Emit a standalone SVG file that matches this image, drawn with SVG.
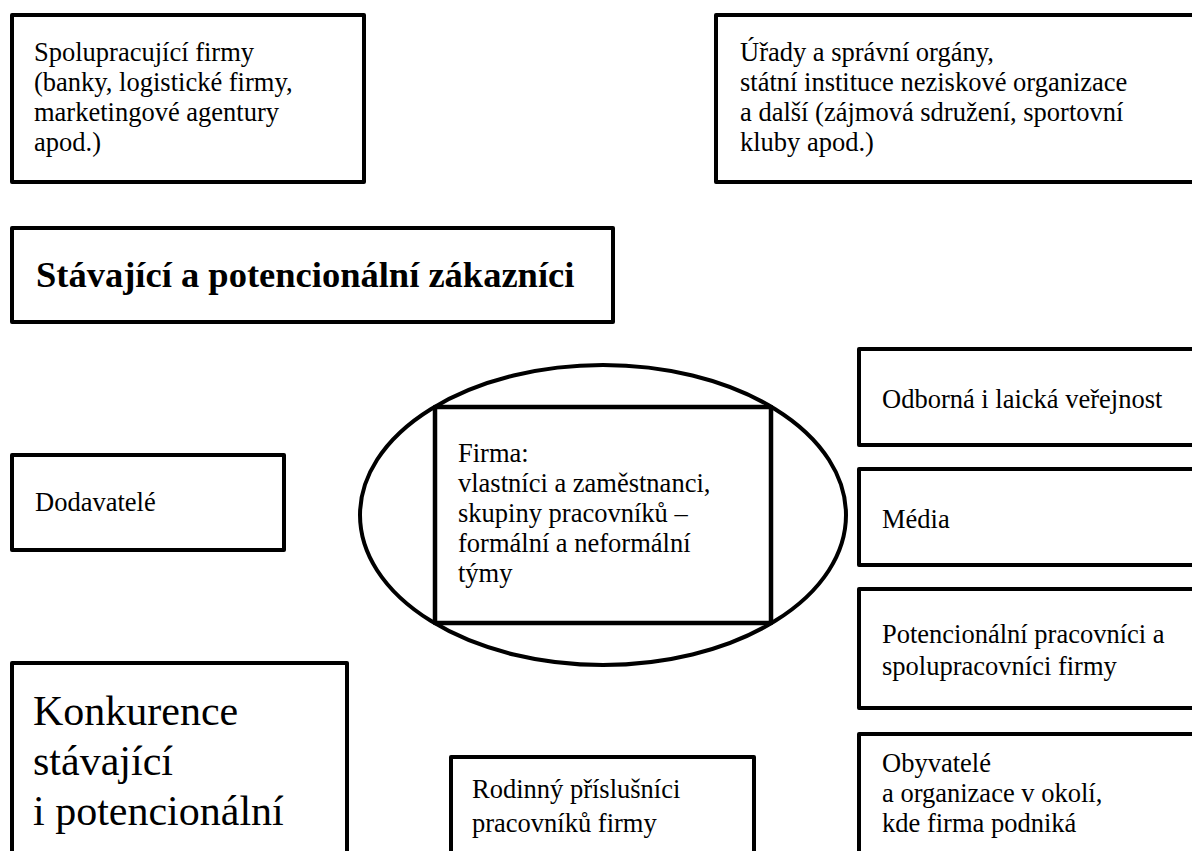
<svg xmlns="http://www.w3.org/2000/svg" width="1192" height="851" viewBox="0 0 1192 851">
<style>
.box{fill:#fff;stroke:#000;stroke-width:4;stroke-linejoin:round}
.t{font-family:"Liberation Serif","Times New Roman",serif;font-size:26.5px;fill:#000}
.big{font-family:"Liberation Serif","Times New Roman",serif;font-size:42px;fill:#000}
.bold{font-family:"Liberation Serif","Times New Roman",serif;font-size:36.5px;font-weight:bold;fill:#000}
</style>
<rect x="0" y="0" width="1192" height="851" fill="#fff"/>
<g id="connectors"></g>
<g id="spolupracujici">
<rect class="box" x="12" y="15" width="352" height="167"/>
<text class="t" x="34" y="61">Spolupracující firmy</text>
<text class="t" x="34" y="91">(banky, logistické firmy,</text>
<text class="t" x="34" y="121">marketingové agentury</text>
<text class="t" x="34" y="151">apod.)</text>
</g>
<g id="urady">
<rect class="box" x="716" y="15" width="520" height="167"/>
<text class="t" x="740" y="61">Úřady a správní orgány,</text>
<text class="t" x="740" y="91">státní instituce neziskové organizace</text>
<text class="t" x="740" y="121">a další (zájmová sdružení, sportovní</text>
<text class="t" x="740" y="151">kluby apod.)</text>
</g>
<g id="zakaznici">
<rect class="box" x="12" y="228" width="601" height="94"/>
<text class="bold" x="36" y="287">Stávající a potencionální zákazníci</text>
</g>
<g id="firma">
<ellipse cx="603" cy="515" rx="243" ry="150" fill="none" stroke="#000" stroke-width="4"/>
<rect class="box" x="435" y="407" width="336" height="216" fill="none" style="fill:none;stroke-width:4.5"/>
<text class="t" x="458" y="462">Firma:</text>
<text class="t" x="458" y="492">vlastníci a zaměstnanci,</text>
<text class="t" x="458" y="522">skupiny pracovníků –</text>
<text class="t" x="458" y="552">formální a neformální</text>
<text class="t" x="458" y="582">týmy</text>
</g>
<g id="dodavatele">
<rect class="box" x="12" y="455" width="272" height="95"/>
<text class="t" x="35" y="511">Dodavatelé</text>
</g>
<g id="konkurence">
<rect class="box" x="12" y="663" width="335" height="220"/>
<text class="big" x="33" y="725">Konkurence</text>
<text class="big" x="33" y="775">stávající</text>
<text class="big" x="33" y="825">i potencionální</text>
</g>
<g id="rodinni">
<rect class="box" x="451" y="757" width="303" height="130"/>
<text class="t" x="472" y="798">Rodinný příslušníci</text>
<text class="t" x="472" y="832">pracovníků firmy</text>
</g>
<g id="verejnost">
<rect class="box" x="859" y="349" width="360" height="96"/>
<text class="t" x="882" y="408">Odborná i laická veřejnost</text>
</g>
<g id="media">
<rect class="box" x="859" y="469" width="360" height="96"/>
<text class="t" x="882" y="528">Média</text>
</g>
<g id="pracovnici">
<rect class="box" x="859" y="589" width="360" height="119"/>
<text class="t" x="882" y="643">Potencionální pracovníci a</text>
<text class="t" x="882" y="675">spolupracovníci firmy</text>
</g>
<g id="obyvatele">
<rect class="box" x="859" y="734" width="360" height="150"/>
<text class="t" x="882" y="772">Obyvatelé</text>
<text class="t" x="882" y="802">a organizace v okolí,</text>
<text class="t" x="882" y="832">kde firma podniká</text>
</g>
</svg>
